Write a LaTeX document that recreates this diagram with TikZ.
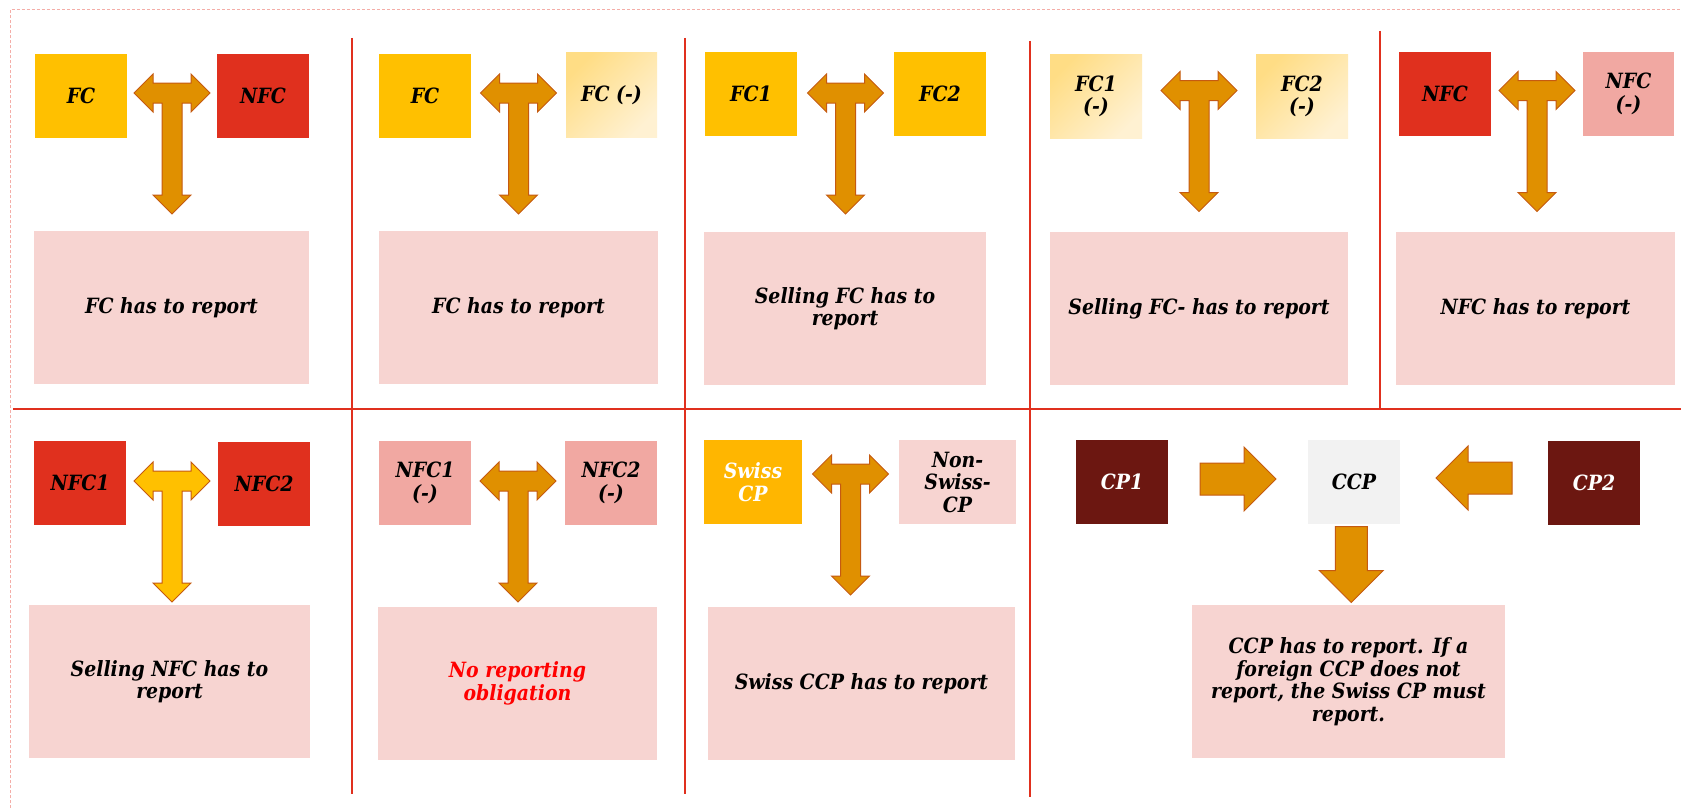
\documentclass[tikz,border=0pt]{standalone}
\usepackage{fontspec}
\newfontfamily\gfont{DejaVu Serif}[FakeStretch=0.9]
\newcommand\lblfont{\gfont\bfseries\itshape\fontsize{21}{22.5}\selectfont}
\usetikzlibrary{calc}
\definecolor{pwcgold}{HTML}{FFC000}
\definecolor{swissgold}{HTML}{FFB600}
\definecolor{pwcred}{HTML}{E0301E}
\definecolor{respink}{HTML}{F7D4D1}
\definecolor{nfcminus}{HTML}{F1A8A2}
\definecolor{cpbrown}{HTML}{6C1711}
\definecolor{ccpgray}{HTML}{F2F2F2}
\definecolor{fcmtop}{HTML}{FFDD85}
\definecolor{fcmbot}{HTML}{FFF1D2}
\definecolor{arrfill}{HTML}{E09000}
\definecolor{arrline}{HTML}{C55A11}
\definecolor{bordercol}{HTML}{F4ADA7}
\definecolor{noredtext}{HTML}{FF0000}
\begin{document}
\begin{tikzpicture}[x=1pt,y=-1pt,
  lbl/.style={font=\lblfont, align=center, inner sep=0pt},
  sq/.style={lbl, minimum width=92pt, minimum height=84pt},
  res/.style={lbl, fill=respink, minimum height=153pt},
  fcminus/.style={sq, top color=fcmtop, bottom color=fcmbot, shading angle=45},
  divider/.style={draw=pwcred, line width=2pt},
  orangearr/.style={fill=arrfill, draw=arrline, line width=1pt},
  yellowarr/.style={fill=pwcgold, draw=arrline, line width=1pt},
  tarrow/.pic={\path[pic actions] (-38,0) -- (-19,-19) -- (-19,-10) -- (19,-10) -- (19,-19) -- (38,0) -- (19,19) -- (19,10) -- (10,10) -- (10,102) -- (19,102) -- (0,121) -- (-19,102) -- (-10,102) -- (-10,10) -- (-19,10) -- (-19,19) -- cycle;},
  barrow/.pic={\path[pic actions] (-38,-16) -- (6,-16) -- (6,-32) -- (38,0) -- (6,32) -- (6,16) -- (-38,16) -- cycle;}
]
\useasboundingbox (0,0) rectangle (1681,808);
\fill[white] (0,0) rectangle (1681,808);

% outer dashed frame
\draw[bordercol, line width=1pt, dash pattern=on 3pt off 2pt] (10,808) -- (10,10) -- (1681,10);

% dividers
\draw[divider] (13,409) -- (1681,409);
\draw[divider] (352,38) -- (352,794);
\draw[divider] (685,38) -- (685,794);
\draw[divider] (1030,41) -- (1030,797);
\draw[divider] (1380,31) -- (1380,409);

% Panel 1
\node[sq, fill=pwcgold] (fcA) at (81,96) {FC};
\node[sq, fill=pwcred] (nfcA) at (263,96) {NFC};
\node[res, minimum width=275pt] (resA) at (171.5,307.5) {FC has to report};
\pic[orangearr] at ($(fcA.east)!.5!(nfcA.west)+(0,-3)$) {tarrow};

% Panel 2
\node[sq, fill=pwcgold] (fcB) at (425,96) {FC};
\node[fcminus, minimum width=91pt] (fcmB) at (611.5,95) {FC (-)};
\node[res, minimum width=279pt] (resB) at (518.5,307.5) {FC has to report};
\pic[orangearr] at ($(fcB.east)!.5!(fcmB.west)+(0,-2.5)$) {tarrow};

% Panel 3
\node[sq, fill=pwcgold] (fc1C) at (751,94) {FC1};
\node[sq, fill=pwcgold] (fc2C) at (940,94) {FC2};
\node[res, minimum width=282pt] (resC) at (845,308.5) {Selling FC has to\\report};
\pic[orangearr] at ($(fc1C.east)!.5!(fc2C.west)+(0,-1)$) {tarrow};

% Panel 4
\node[fcminus] (fc1D) at (1096,96.5) {FC1\\(-)};
\node[fcminus] (fc2D) at (1302,96.5) {FC2\\(-)};
\node[res, minimum width=298pt] (resD) at (1199,308.5) {Selling FC- has to report};
\pic[orangearr] at ($(fc1D.east)!.5!(fc2D.west)+(0,-6)$) {tarrow};

% Panel 5
\node[sq, fill=pwcred] (nfcE) at (1445,94) {NFC};
\node[sq, fill=nfcminus, minimum width=91pt] (nfcmE) at (1628.5,94) {NFC\\(-)};
\node[res, minimum width=279pt] (resE) at (1535.5,308.5) {NFC has to report};
\pic[orangearr] at ($(nfcE.east)!.5!(nfcmE.west)+(0,-3.5)$) {tarrow};

% Panel 6
\node[sq, fill=pwcred] (nfc1F) at (80,483) {NFC1};
\node[sq, fill=pwcred] (nfc2F) at (264,484) {NFC2};
\node[res, minimum width=281pt] (resF) at (169.5,681.5) {Selling NFC has to\\report};
\pic[yellowarr] at ($(nfc1F.east)!.5!(nfc2F.west)+(0,-2.5)$) {tarrow};

% Panel 7
\node[sq, fill=nfcminus] (nfc1G) at (425,483) {NFC1\\(-)};
\node[sq, fill=nfcminus] (nfc2G) at (611,483) {NFC2\\(-)};
\node[res, minimum width=279pt, text=noredtext] (resG) at (517.5,683.5) {No reporting\\obligation};
\pic[orangearr] at ($(nfc1G.east)!.5!(nfc2G.west)+(0,-2)$) {tarrow};

% Panel 8
\node[sq, fill=swissgold, minimum width=98pt, text=white] (swH) at (753,482) {Swiss\\CP};
\node[sq, fill=respink, minimum width=117pt] (nswH) at (957.5,482) {Non-\\Swiss-\\CP};
\node[res, minimum width=307pt] (resH) at (861.5,683.5) {Swiss CCP has to report};
\pic[orangearr] at ($(swH.east)!.5!(nswH.west)+(0,-8)$) {tarrow};

% Panel 9
\node[sq, fill=cpbrown, text=white] (cp1) at (1122,482) {CP1};
\node[sq, fill=ccpgray] (ccp) at (1354,482) {CCP};
\node[sq, fill=cpbrown, text=white] (cp2) at (1594,483) {CP2};
\node[res, minimum width=313pt] (resI) at (1348.5,681.5) {CCP has to report. If a\\foreign CCP does not\\report, the Swiss CP must\\report.};
\pic[orangearr] at ($(cp1.east)!.5!(ccp.west)+(0,-3)$) {barrow};
\pic[orangearr, rotate=180] at ($(ccp.east)!.5!(cp2.west)+(0,-4.5)$) {barrow};
\pic[orangearr, rotate=-90] at ($(ccp.south)!.5!(resI.north)$) {barrow};
\end{tikzpicture}
\end{document}
